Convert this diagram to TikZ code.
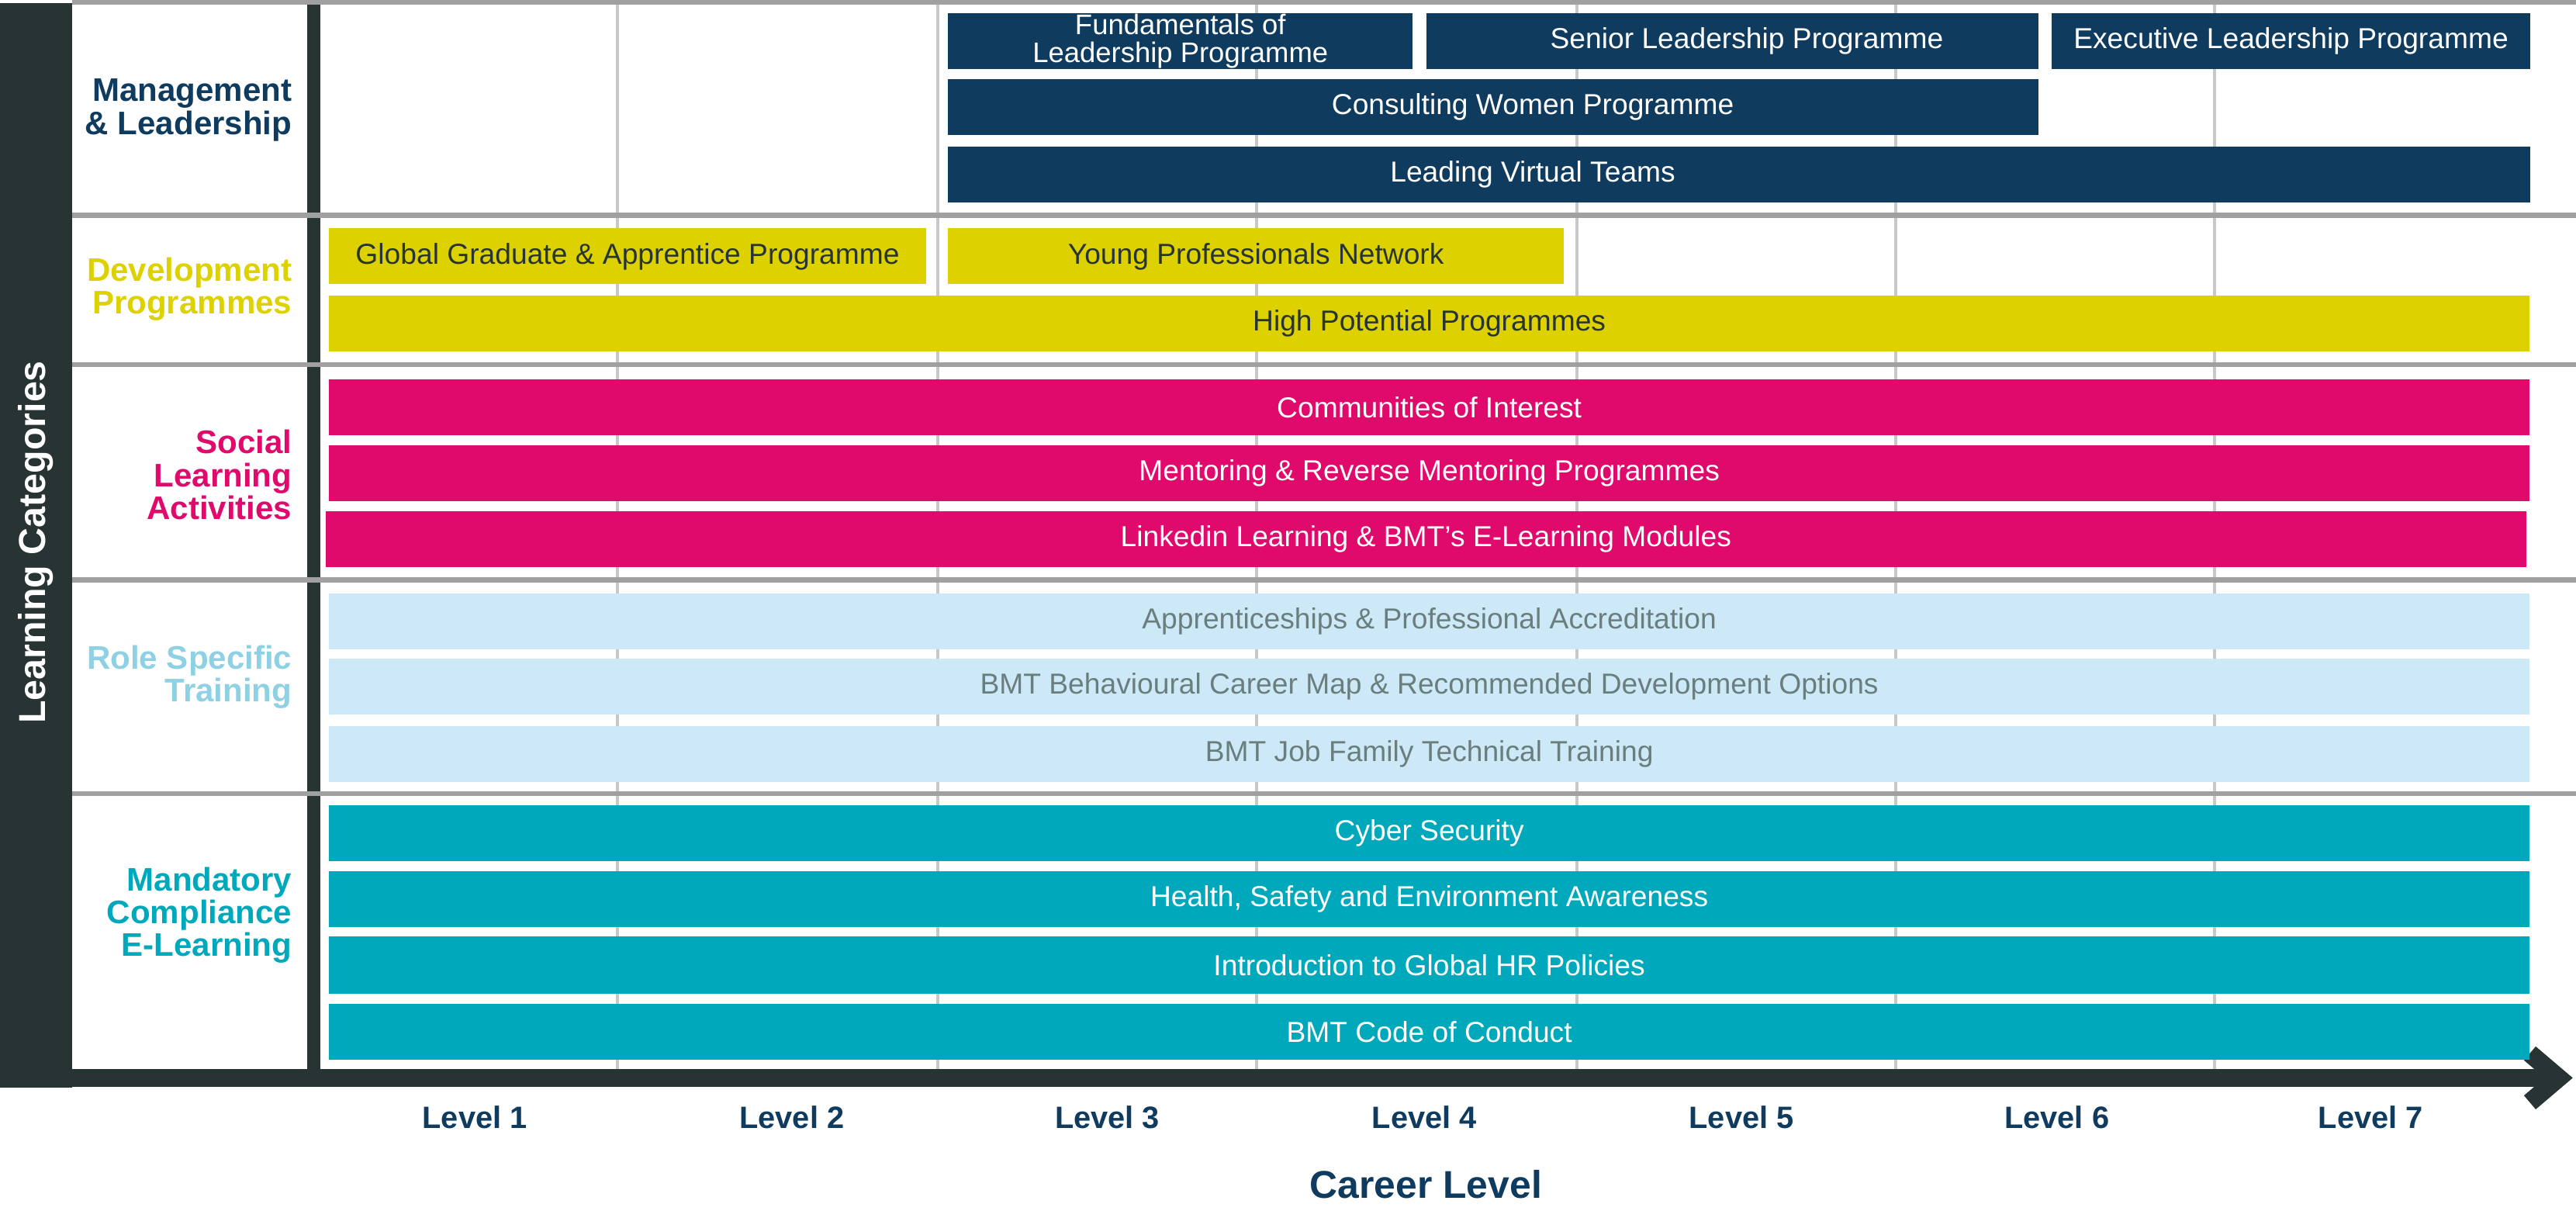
\documentclass[tikz,border=0pt]{standalone}
\usepackage{fontspec}
\setmainfont{Liberation Sans}
\usetikzlibrary{positioning,arrows.meta}
\definecolor{navy}{RGB}{15,59,95}
\definecolor{devyellow}{RGB}{221,210,0}
\definecolor{socpink}{RGB}{224,9,108}
\definecolor{rolebar}{RGB}{205,232,246}
\definecolor{roletext}{RGB}{106,126,126}
\definecolor{rolelabel}{RGB}{142,208,228}
\definecolor{mandteal}{RGB}{0,168,187}
\definecolor{darkbar}{RGB}{40,52,52}
\definecolor{rowgray}{RGB}{160,160,160}
\definecolor{colgray}{RGB}{200,200,200}

\begin{document}
\begin{tikzpicture}[x=0.02cm,y=-0.02cm,
  bar/.style={inner sep=0pt,minimum height=0.68cm,align=center,font=\fontsize{10}{10.5}\selectfont},
  full/.style={minimum width=26.8cm},
  lead/.style={bar,fill=navy,text=white},
  dev/.style={bar,fill=devyellow,text=darkbar},
  soc/.style={bar,fill=socpink,text=white},
  role/.style={bar,fill=rolebar,text=roletext},
  mand/.style={bar,fill=mandteal,text=white},
  cat/.style={anchor=east,align=right,inner sep=0pt,font=\bfseries\fontsize{11.3}{11.4}\selectfont},
  lvl/.style={text=navy,font=\bfseries\fontsize{10.7}{12}\selectfont},
  rowline/.style={draw=rowgray,line width=1.7pt},
  colline/.style={draw=colgray,line width=1.1pt},
  axisline/.style={draw=darkbar,line width=6.3pt,-{Straight Barb[length=10pt,width=17pt,line cap=butt,line join=miter]}}]
  \useasboundingbox[fill=white] (0,0) rectangle (1568,737);

  % grid
  \foreach \x in {376,571,765,960,1154,1348}
    \draw[colline] (\x,3) -- (\x,651);
  \fill[darkbar] (0,2) rectangle (44,662);
  \fill[darkbar] (187,3) rectangle (195,651);
  \foreach \y in {1.5,131,222,353,483}
    \draw[rowline] (44,\y) -- (1568,\y);

  % axis
  \coordinate (origin) at (0,656);
  \coordinate (tip) at (1566,656);
  \draw[axisline] (origin) -- (tip);

  % categories
  \node[rotate=90,text=white,font=\bfseries\fontsize{13}{14}\selectfont] (learn) at (22,330) {Learning Categories};
  \node[cat,text=navy] (mgmt) at (178,67) {Management\\\& Leadership};
  \node[cat,text=devyellow] (devp) at (178,176) {Development\\Programmes};
  \node[cat,text=socpink] (social) at (178,289) {Social\\Learning\\Activities};
  \node[cat,text=rolelabel] (rolesp) at (178,412) {Role Specific\\Training};
  \node[cat,text=mandteal] (mandc) at (178,557) {Mandatory\\Compliance\\E-Learning};

  % management & leadership
  \node[lead,minimum width=5.66cm,font=\fontsize{9.8}{9.5}\selectfont] (fund) at (718.5,25) {Fundamentals of\\Leadership Programme};
  \node[lead,minimum width=7.46cm] (senior) at (1054.5,25) {\hspace{10pt}Senior Leadership Programme};
  \node[lead,minimum width=5.82cm] (exec) at (1394.5,25) {Executive Leadership Programme};
  \node[lead,minimum width=13.28cm] (women) at (909,65) {};
  \node[lead,minimum width=19.26cm] (virtual) at (1058.5,106) {};
  \node[bar,text=white] (womentxt) at (933,65) {Consulting Women Programme};
  \node[bar,text=white] (virtualtxt) at (933,106) {Leading Virtual Teams};

  % development programmes
  \node[dev,minimum width=7.28cm] (grad) at (382,156) {Global Graduate \& Apprentice Programme};
  \node[dev,minimum width=7.5cm] (young) at (764.5,156) {Young Professionals Network};
  \node[dev,full] (hipo) at (870,197) {High Potential Programmes};

  % social learning
  \node[soc,full] (coi) at (870,248) {Communities of Interest};
  \node[soc,full] (mentor) at (870,288) {Mentoring \& Reverse Mentoring Programmes};
  \node[soc,full] (linkedin) at (868,328) {Linkedin Learning \& BMT’s E-Learning Modules};

  % role specific
  \node[role,full] (appr) at (870,378) {Apprenticeships \& Professional Accreditation};
  \node[role,full] (behav) at (870,418) {BMT Behavioural Career Map \& Recommended Development Options};
  \node[role,full] (jobfam) at (870,459) {BMT Job Family Technical Training};

  % mandatory
  \node[mand,full] (cyber) at (870,507) {Cyber Security};
  \node[mand,full] (hse) at (870,547) {Health, Safety and Environment Awareness};
  \node[mand,full,minimum height=0.7cm] (hrpol) at (870,587.5) {Introduction to Global HR Policies};
  \node[mand,full] (conduct) at (870,628) {BMT Code of Conduct};

  % levels
  \node[lvl] (lv1) at (289,680) {Level 1};
  \node[lvl] (lv2) at (482,680) {Level 2};
  \node[lvl] (lv3) at (674,680) {Level 3};
  \node[lvl] (lv4) at (867,680) {Level 4};
  \node[lvl] (lv5) at (1060,680) {Level 5};
  \node[lvl] (lv6) at (1252,680) {Level 6};
  \node[lvl] (lv7) at (1443,680) {Level 7};
  \node[text=navy,font=\bfseries\fontsize{13.4}{15}\selectfont] (career) at (868,721) {Career Level};
\end{tikzpicture}
\end{document}
